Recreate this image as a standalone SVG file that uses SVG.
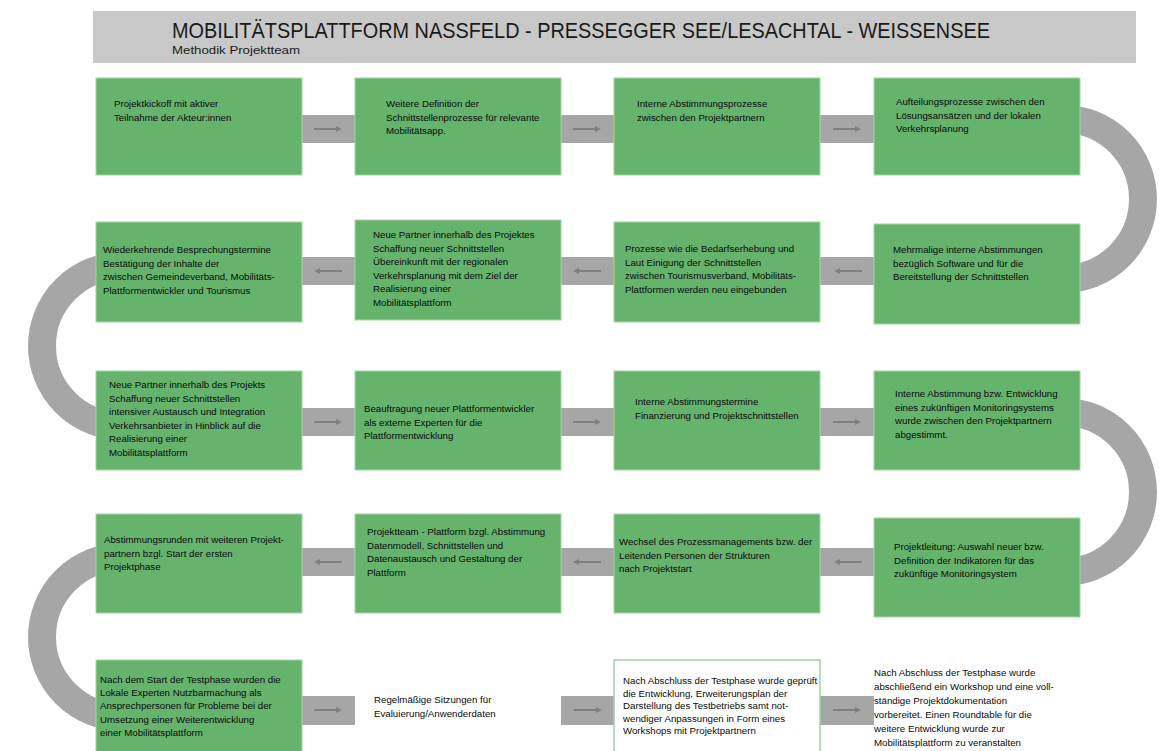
<svg xmlns="http://www.w3.org/2000/svg" width="1159" height="751" viewBox="0 0 1159 751">
<style>
.box{fill:#65b36d;stroke:#a3d6a6;stroke-width:1}
.wbox{fill:#ffffff;stroke:#9fd3a3;stroke-width:1.5}
.bar{fill:#a6a6a6}
.arc{fill:none;stroke:#a6a6a6;stroke-width:28}
.arr{stroke:#7f7f7f;stroke-width:2;fill:none;marker-end:url(#ah)}
.t{font-family:"Liberation Sans",Arial,sans-serif;font-size:9.7px;fill:#0a0a0a}
.title{font-family:"Liberation Sans",Arial,sans-serif;font-size:22px;fill:#1a1a1a}
.sub{font-family:"Liberation Sans",Arial,sans-serif;font-size:10.5px;fill:#1a1a1a}
</style>
<defs>
<marker id="ah" markerWidth="6" markerHeight="6" refX="4" refY="3" orient="auto" markerUnits="userSpaceOnUse"><path d="M0,0 L6,3 L0,6 z" fill="#7f7f7f"/></marker>
</defs>
<rect width="1159" height="751" fill="#ffffff"/>
<g id="header">
<rect x="93" y="11" width="1043" height="52" fill="#c8c8c8"/>
<text class="title" x="172" y="38" textLength="818" lengthAdjust="spacingAndGlyphs">MOBILITÄTSPLATTFORM NASSFELD - PRESSEGGER SEE/LESACHTAL - WEISSENSEE</text>
<text class="sub" x="172" y="54" textLength="128" lengthAdjust="spacingAndGlyphs">Methodik Projektteam</text>
</g>
<g id="connectors">
<path class="arc" d="M1063,119 A80,80 0 0 1 1063,279"/>
<path class="arc" d="M1063,412 A80,80 0 0 1 1063,572"/>
<path class="arc" d="M122,266 A80,80 0 0 0 122,426"/>
<path class="arc" d="M122,557 A80,80 0 0 0 122,717"/>
<rect class="bar" x="300" y="115" width="57" height="28"/>
<rect class="bar" x="559" y="115" width="57" height="28"/>
<rect class="bar" x="818" y="115" width="58" height="28"/>
<rect class="bar" x="300" y="257" width="57" height="28"/>
<rect class="bar" x="559" y="257" width="57" height="28"/>
<rect class="bar" x="818" y="257" width="58" height="28"/>
<rect class="bar" x="300" y="408" width="57" height="28"/>
<rect class="bar" x="559" y="408" width="57" height="28"/>
<rect class="bar" x="818" y="408" width="58" height="28"/>
<rect class="bar" x="300" y="548" width="57" height="28"/>
<rect class="bar" x="559" y="548" width="57" height="28"/>
<rect class="bar" x="818" y="548" width="58" height="28"/>
<rect class="bar" x="300" y="696" width="55" height="29"/>
<rect class="bar" x="561" y="696" width="55" height="29"/>
<rect class="bar" x="818" y="696" width="56" height="29"/>
<line class="arr" x1="314" y1="129" x2="340" y2="129"/>
<line class="arr" x1="573" y1="129" x2="599" y2="129"/>
<line class="arr" x1="833" y1="129" x2="859" y2="129"/>
<line class="arr" x1="342" y1="271" x2="316" y2="271"/>
<line class="arr" x1="601" y1="271" x2="575" y2="271"/>
<line class="arr" x1="862" y1="271" x2="836" y2="271"/>
<line class="arr" x1="314" y1="422" x2="340" y2="422"/>
<line class="arr" x1="573" y1="422" x2="599" y2="422"/>
<line class="arr" x1="833" y1="422" x2="859" y2="422"/>
<line class="arr" x1="342" y1="562" x2="316" y2="562"/>
<line class="arr" x1="601" y1="562" x2="575" y2="562"/>
<line class="arr" x1="862" y1="562" x2="836" y2="562"/>
<line class="arr" x1="314" y1="710" x2="340" y2="710"/>
<line class="arr" x1="574" y1="710" x2="600" y2="710"/>
<line class="arr" x1="833" y1="710" x2="859" y2="710"/>
</g>
<g id="n1"><rect class="box" x="96" y="78" width="206" height="97"/>
<text class="t" y="107"><tspan x="114">Projektkickoff mit aktiver</tspan><tspan x="114" dy="13.5">Teilnahme der Akteur:innen</tspan></text></g>
<g id="n2"><rect class="box" x="355" y="78" width="206" height="97"/>
<text class="t" y="107"><tspan x="386">Weitere Definition der</tspan><tspan x="386" dy="13.5">Schnittstellenprozesse für relevante</tspan><tspan x="386" dy="13.5">Mobilitätsapp.</tspan></text></g>
<g id="n3"><rect class="box" x="614" y="78" width="206" height="97"/>
<text class="t" y="107"><tspan x="637">Interne Abstimmungsprozesse</tspan><tspan x="637" dy="13.5">zwischen den Projektpartnern</tspan></text></g>
<g id="n4"><rect class="box" x="874" y="78" width="206" height="97"/>
<text class="t" y="105"><tspan x="896">Aufteilungsprozesse zwischen den</tspan><tspan x="896" dy="13.5">Lösungsansätzen und der lokalen</tspan><tspan x="896" dy="13.5">Verkehrsplanung</tspan></text></g>
<g id="n5"><rect class="box" x="874" y="224" width="206" height="100"/>
<text class="t" y="253"><tspan x="893">Mehrmalige interne Abstimmungen</tspan><tspan x="893" dy="13.5">bezüglich Software und für die</tspan><tspan x="893" dy="13.5">Bereitstellung der Schnittstellen</tspan></text></g>
<g id="n6"><rect class="box" x="614" y="222" width="206" height="100"/>
<text class="t" y="252"><tspan x="625">Prozesse wie die Bedarfserhebung und</tspan><tspan x="625" dy="13.5">Laut Einigung der Schnittstellen</tspan><tspan x="625" dy="13.5">zwischen Tourismusverband, Mobilitäts-</tspan><tspan x="625" dy="13.5">Plattformen werden neu eingebunden</tspan></text></g>
<g id="n7"><rect class="box" x="355" y="220" width="206" height="100"/>
<text class="t" y="238"><tspan x="373">Neue Partner innerhalb des Projektes</tspan><tspan x="373" dy="13.5">Schaffung neuer Schnittstellen</tspan><tspan x="373" dy="13.5">Übereinkunft mit der regionalen</tspan><tspan x="373" dy="13.5">Verkehrsplanung mit dem Ziel der</tspan><tspan x="373" dy="13.5">Realisierung einer</tspan><tspan x="373" dy="13.5">Mobilitätsplattform</tspan></text></g>
<g id="n8"><rect class="box" x="96" y="222" width="206" height="100"/>
<text class="t" y="253"><tspan x="103">Wiederkehrende Besprechungstermine</tspan><tspan x="103" dy="13.5">Bestätigung der Inhalte der</tspan><tspan x="103" dy="13.5">zwischen Gemeindeverband, Mobilitäts-</tspan><tspan x="103" dy="13.5">Plattformentwickler und Tourismus</tspan></text></g>
<g id="n9"><rect class="box" x="96" y="371" width="206" height="99"/>
<text class="t" y="388"><tspan x="109">Neue Partner innerhalb des Projekts</tspan><tspan x="109" dy="13.5">Schaffung neuer Schnittstellen</tspan><tspan x="109" dy="13.5">intensiver Austausch und Integration</tspan><tspan x="109" dy="13.5">Verkehrsanbieter in Hinblick auf die</tspan><tspan x="109" dy="13.5">Realisierung einer</tspan><tspan x="109" dy="13.5">Mobilitätsplattform</tspan></text></g>
<g id="n10"><rect class="box" x="355" y="371" width="206" height="99"/>
<text class="t" y="412"><tspan x="364">Beauftragung neuer Plattformentwickler</tspan><tspan x="364" dy="13.5">als externe Experten für die</tspan><tspan x="364" dy="13.5">Plattformentwicklung</tspan></text></g>
<g id="n11"><rect class="box" x="614" y="371" width="206" height="99"/>
<text class="t" y="405"><tspan x="635">Interne Abstimmungstermine</tspan><tspan x="635" dy="13.5">Finanzierung und Projektschnittstellen</tspan></text></g>
<g id="n12"><rect class="box" x="874" y="371" width="206" height="99"/>
<text class="t" y="397"><tspan x="895">Interne Abstimmung bzw. Entwicklung</tspan><tspan x="895" dy="13.5">eines zukünftigen Monitoringsystems</tspan><tspan x="895" dy="13.5">wurde zwischen den Projektpartnern</tspan><tspan x="895" dy="13.5">abgestimmt.</tspan></text></g>
<g id="n13"><rect class="box" x="874" y="518" width="206" height="99"/>
<text class="t" y="550"><tspan x="894">Projektleitung: Auswahl neuer bzw.</tspan><tspan x="894" dy="13.5">Definition der Indikatoren für das</tspan><tspan x="894" dy="13.5">zukünftige Monitoringsystem</tspan></text></g>
<g id="n14"><rect class="box" x="614" y="514" width="206" height="99"/>
<text class="t" y="545"><tspan x="619">Wechsel des Prozessmanagements bzw. der</tspan><tspan x="619" dy="13.5">Leitenden Personen der Strukturen</tspan><tspan x="619" dy="13.5">nach Projektstart</tspan></text></g>
<g id="n15"><rect class="box" x="355" y="514" width="206" height="99"/>
<text class="t" y="535"><tspan x="367">Projektteam - Plattform bzgl. Abstimmung</tspan><tspan x="367" dy="13.5">Datenmodell, Schnittstellen und</tspan><tspan x="367" dy="13.5">Datenaustausch und Gestaltung der</tspan><tspan x="367" dy="13.5">Plattform</tspan></text></g>
<g id="n16"><rect class="box" x="96" y="514" width="206" height="99"/>
<text class="t" y="543"><tspan x="104">Abstimmungsrunden mit weiteren Projekt-</tspan><tspan x="104" dy="13.5">partnern bzgl. Start der ersten</tspan><tspan x="104" dy="13.5">Projektphase</tspan></text></g>
<g id="n17"><rect class="box" x="96" y="660" width="206" height="100"/>
<text class="t" y="683"><tspan x="100">Nach dem Start der Testphase wurden die</tspan><tspan x="100" dy="13.2">Lokale Experten Nutzbarmachung als</tspan><tspan x="100" dy="13.2">Ansprechpersonen für Probleme bei der</tspan><tspan x="100" dy="13.2">Umsetzung einer Weiterentwicklung</tspan><tspan x="100" dy="13.2">einer Mobilitätsplattform</tspan></text></g>
<g id="n18">
<text class="t" y="703"><tspan x="374">Regelmäßige Sitzungen für</tspan><tspan x="374" dy="13.5">Evaluierung/Anwenderdaten</tspan></text></g>
<g id="n19"><rect class="wbox" x="614" y="660" width="206" height="100"/>
<text class="t" y="684"><tspan x="623">Nach Abschluss der Testphase wurde geprüft</tspan><tspan x="623" dy="12.5">die Entwicklung, Erweiterungsplan der</tspan><tspan x="623" dy="12.5">Darstellung des Testbetriebs samt not-</tspan><tspan x="623" dy="12.5">wendiger Anpassungen in Form eines</tspan><tspan x="623" dy="12.5">Workshops mit Projektpartnern</tspan></text></g>
<g id="n20">
<text class="t" y="676"><tspan x="874">Nach Abschluss der Testphase wurde</tspan><tspan x="874" dy="14">abschließend ein Workshop und eine voll-</tspan><tspan x="874" dy="14">ständige Projektdokumentation</tspan><tspan x="874" dy="14">vorbereitet. Einen Roundtable für die</tspan><tspan x="874" dy="14">weitere Entwicklung wurde zur</tspan><tspan x="874" dy="14">Mobilitätsplattform zu veranstalten</tspan></text></g>
</svg>
